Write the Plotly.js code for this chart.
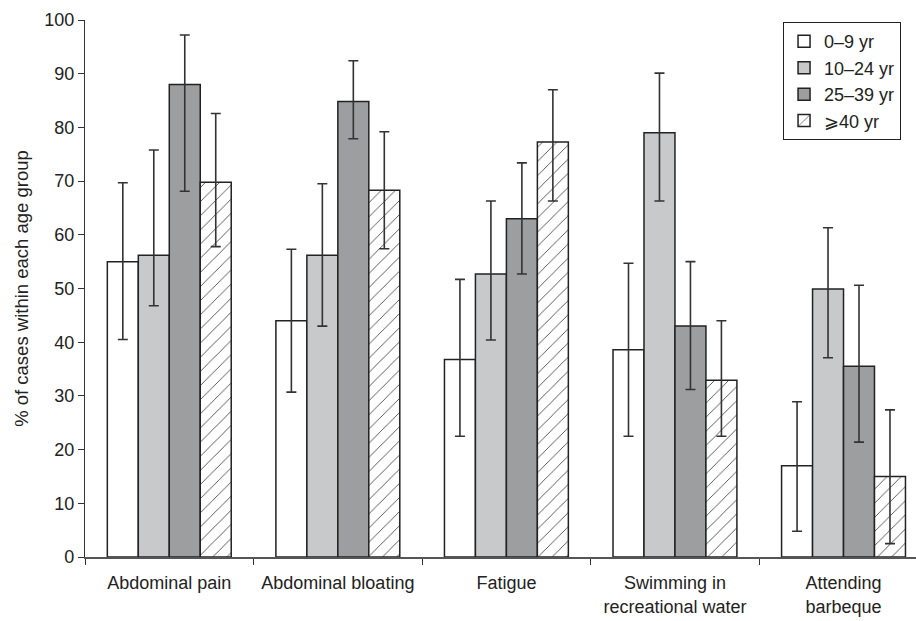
<!DOCTYPE html>
<html>
<head>
<meta charset="utf-8">
<script src="https://cdn.plot.ly/plotly-3.0.1.min.js"></script>
<style>html,body{margin:0;padding:0;background:#fff;}#chart{width:916px;height:621px;}</style>
</head>
<body>
<div id="chart"></div>
<script>
const categories = ["Abdominal pain", "Abdominal bloating", "Fatigue", "Swimming in<br>recreational water", "Attending<br>barbeque"];
const seriesNames = ["0\u20139 yr", "10\u201324 yr", "25\u201339 yr", "\u2A7E40 yr"];

const v0_9   = [55.0, 44.0, 36.8, 38.6, 17.0];
const v10_24 = [56.2, 56.2, 52.7, 79.0, 49.9];
const v25_39 = [88.0, 84.8, 63.0, 43.0, 35.5];
const v40    = [69.8, 68.3, 77.3, 32.9, 15.0];

const hi0_9   = [69.7, 57.3, 51.7, 54.7, 28.9];
const lo0_9   = [40.5, 30.7, 22.5, 22.5, 4.8];
const hi10_24 = [75.8, 69.5, 66.3, 90.1, 61.3];
const lo10_24 = [46.8, 43.0, 40.4, 66.3, 37.1];
const hi25_39 = [97.2, 92.4, 73.4, 55.0, 50.6];
const lo25_39 = [68.1, 77.9, 52.7, 31.2, 21.4];
const hi40    = [82.6, 79.2, 87.0, 44.0, 27.4];
const lo40    = [57.8, 57.4, 66.3, 22.5, 2.5];

const values = [v0_9, v10_24, v25_39, v40];
const highs = [hi0_9, hi10_24, hi25_39, hi40];
const lows = [lo0_9, lo10_24, lo25_39, lo40];
const fills = ["#ffffff", "#c8c9cb", "#9d9ea0", "#ffffff"];

const traces = values.map((vals, i) => {
  const marker = {color: fills[i], line: {color: "#222", width: 1.5}};
  if (i === 3) {
    marker.pattern = {shape: "/", size: 10, solidity: 0.08, fgcolor: "#333", bgcolor: "#ffffff", fillmode: "replace"};
  }
  return {
    type: "bar",
    name: seriesNames[i],
    x: categories,
    y: vals,
    marker: marker,
    error_y: {
      type: "data",
      symmetric: false,
      array: vals.map((v, k) => highs[i][k] - v),
      arrayminus: vals.map((v, k) => v - lows[i][k]),
      color: "#333",
      thickness: 1.6,
      width: 5
    }
  };
});

const font = "Liberation Sans, Arial, Helvetica, sans-serif";
const layout = {
  width: 916, height: 621,
  margin: {l: 85, r: 0, t: 20, b: 64},
  paper_bgcolor: "#fff", plot_bgcolor: "#fff",
  barmode: "group", bargap: 0.265, bargroupgap: 0,
  showlegend: true,
  legend: {
    x: 0.84, y: 0.996, xanchor: "left", yanchor: "top",
    bordercolor: "#222", borderwidth: 1, bgcolor: "#fff",
    font: {family: font, size: 18, color: "#222"},
    traceorder: "normal",
    itemwidth: 30
  },
  xaxis: {
    type: "category",
    range: [-0.5, 4.43],
    showline: true, linecolor: "#555", linewidth: 1.5,
    ticks: "outside", tickson: "boundaries", ticklen: 6, tickcolor: "#333",
    ticklabelstandoff: 9,
    showgrid: false, zeroline: false,
    tickfont: {family: font, size: 18, color: "#222"}
  },
  yaxis: {
    range: [0, 100],
    tickvals: [0,10,20,30,40,50,60,70,80,90,100],
    showline: true, linecolor: "#333", linewidth: 1.2,
    ticks: "outside", ticklen: 6, tickcolor: "#333",
    showgrid: false, zeroline: false,
    tickfont: {family: font, size: 18, color: "#222"},
    title: {text: "% of cases within each age group", font: {family: font, size: 18.5, color: "#222"}, standoff: 10}
  }
};

Plotly.newPlot("chart", traces, layout, {staticPlot: true, displayModeBar: false});
</script>
</body>
</html>
